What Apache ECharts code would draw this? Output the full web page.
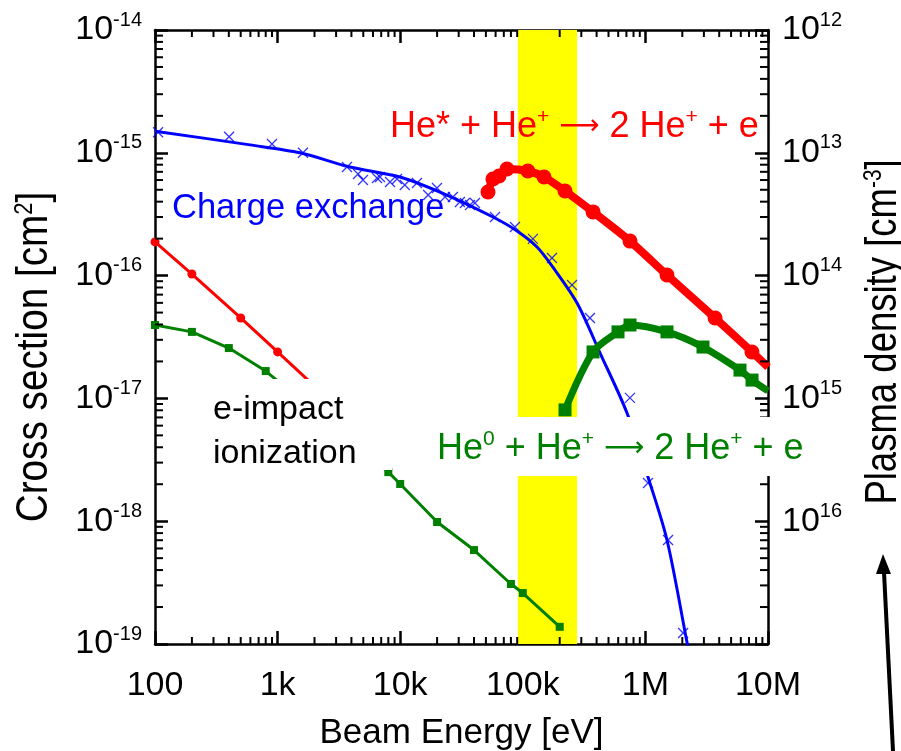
<!DOCTYPE html>
<html><head><meta charset="utf-8">
<script src="https://cdn.jsdelivr.net/npm/echarts@6/dist/echarts.min.js"></script>
<style>html,body{margin:0;padding:0;background:#fff}#c{width:901px;height:751px}</style>
</head><body><div id="c"></div>
<script>
const FONT = '"Liberation Sans", Arial, Helvetica, sans-serif';
const ARROW_FONT = '"DejaVu Sans", "Liberation Sans", sans-serif';

// ---- axes ----
const xTickLabels = ['100', '1k', '10k', '100k', '1M', '10M'];
const leftTickExponents = ['-19', '-18', '-17', '-16', '-15', '-14'];
const rightTickExponents = ['12', '13', '14', '15', '16', ''];
const minorMultipliers = [2, 3, 4, 5, 6, 7, 8, 9];
const xDecades = [100, 1e3, 1e4, 1e5, 1e6];
const yDecades = [1e-19, 1e-18, 1e-17, 1e-16, 1e-15];

// ---- charge exchange (fit curve + data crosses) ----
const cxCurveEnergy = [100, 596, 1524, 3890, 9950, 24000, 57100, 89700, 130600, 176000, 277000, 427000, 708000, 1050000, 1500000, 2190000, 2500000];
const cxCurveSigma  = [1.5e-15, 1.16e-15, 1.0e-15, 7.66e-16, 6.35e-16, 4.53e-16, 3.0e-16, 2.31e-16, 1.71e-16, 1.17e-16, 5.98e-17, 2.34e-17, 7.6e-18, 2.29e-18, 7.03e-19, 1.02e-19, 5.2e-20];
const cxDataEnergy = [106, 402, 900, 1610, 3680, 4530, 4970, 6470, 6840, 8260, 9420, 10900, 13700, 16900, 19950, 23200, 26900, 30700, 33700, 37100, 40700, 59300, 86300, 121000, 173000, 252000, 353000, 748000, 1050000, 1530000, 2030000];
const cxDataSigma  = [1.47e-15, 1.35e-15, 1.18e-15, 1.0e-15, 7.66e-16, 6.71e-16, 6.01e-16, 6.24e-16, 6.35e-16, 5.78e-16, 6.12e-16, 5.47e-16, 5.68e-16, 4.53e-16, 5.17e-16, 4.37e-16, 4.37e-16, 3.98e-16, 3.9e-16, 3.76e-16, 3.9e-16, 3.0e-16, 2.49e-16, 1.99e-16, 1.39e-16, 8.38e-17, 4.51e-17, 1.01e-17, 2.05e-18, 7.03e-19, 1.23e-19];

// ---- e-impact ionization ----
const eImpStarEnergy = [100, 200, 500, 1000, 2000];
const eImpStarSigma  = [1.88e-16, 1.03e-16, 4.52e-17, 2.39e-17, 1.26e-17];
const eImpZeroEnergy = [100, 200, 400, 800, 8000, 10000, 20000, 40000, 80000, 100000, 200000];
const eImpZeroSigma  = [3.96e-17, 3.48e-17, 2.57e-17, 1.67e-17, 2.51e-18, 2.01e-18, 9.85e-19, 5.82e-19, 3.08e-19, 2.6e-19, 1.38e-19];

// ---- He + He+ -> 2He+ + e ----
const ionStarEnergy = [52000, 57100, 64000, 74300, 110000, 149000, 221000, 374000, 749000, 1500000, 3700000, 7400000, 10000000];
const ionStarSigma  = [4.8e-16, 6.12e-16, 6.48e-16, 7.38e-16, 7.11e-16, 6.35e-16, 4.89e-16, 3.3e-16, 1.91e-16, 1.01e-16, 4.52e-17, 2.39e-17, 1.8e-17];
const ionZeroEnergy = [221000, 374000, 598000, 749000, 1500000, 2950000, 5910000, 7410000, 10000000];
const ionZeroSigma  = [8.06e-18, 2.39e-17, 3.48e-17, 3.96e-17, 3.48e-17, 2.62e-17, 1.7e-17, 1.41e-17, 1.15e-17];

// ---- highlighted beam energy band ----
const bandEnergy = [91000, 277000];

const X_MIN = 100, X_MAX = 1e7, Y_MIN = 1e-19, Y_MAX = 1e-14;
const zip = (a, b) => a.map((v, i) => [v, b[i]]);
const lastNoSymbol = arr => arr.map((p, i) => i === arr.length - 1 ? { value: p, symbol: 'none' } : p);
const exp10 = v => Math.round(Math.log10(v));
const xMinor = [], yMinor = [];
xDecades.forEach(d => minorMultipliers.forEach(m => xMinor.push([d * m, Y_MIN])));
yDecades.forEach(d => minorMultipliers.forEach(m => yMinor.push([X_MIN, d * m])));

const supRich = {
  a: { fontFamily: FONT, fontSize: 34, lineHeight: 40, color: '#000' },
  b: { fontFamily: FONT, fontSize: 20, lineHeight: 14, verticalAlign: 'top', color: '#000' }
};
const axisLineStyle = { color: '#000', width: 2.5 };
const majorTick = { inside: true, length: 13, lineStyle: { color: '#000', width: 2.5 } };

const chart = echarts.init(document.getElementById('c'), null, { renderer: 'canvas' });

function textRich(color, size) {
  return {
    s: { fontFamily: FONT, fontSize: 21, lineHeight: 14, verticalAlign: 'top', fill: color, color: color },
    m: { fontFamily: FONT, fontSize: size, lineHeight: 40, fill: color, color: color },
    r: { fontFamily: ARROW_FONT, fontSize: 28, lineHeight: 40, fill: color, color: color }
  };
}
function titleRich() {
  return {
    m: { fontFamily: FONT, fontSize: 44, lineHeight: 44, fill: '#000', color: '#000' },
    s: { fontFamily: FONT, fontSize: 25, lineHeight: 17, verticalAlign: 'top', fill: '#000', color: '#000' }
  };
}

const option = {
  animation: false,
  backgroundColor: '#fff',
  grid: { left: 155, top: 30, width: 613, height: 614, containLabel: false, outerBoundsMode: 'none' },
  xAxis: [
    {
      type: 'log', logBase: 10, min: X_MIN, max: X_MAX, interval: 1, position: 'bottom',
      axisLine: { show: true, onZero: false, lineStyle: axisLineStyle },
      axisTick: majorTick, splitLine: { show: false }, minorTick: { show: false },
      axisLabel: { margin: 25, fontFamily: FONT, fontSize: 34, color: '#000',
        formatter: v => xTickLabels[exp10(v) - 2] },
      name: 'Beam Energy [eV]', nameLocation: 'middle', nameGap: 72,
      nameTextStyle: { fontFamily: FONT, fontSize: 35, color: '#000' }
    },
    {
      type: 'log', logBase: 10, min: X_MIN, max: X_MAX, interval: 1, position: 'top',
      axisLine: { show: true, onZero: false, lineStyle: axisLineStyle },
      axisTick: majorTick, splitLine: { show: false }, axisLabel: { show: false }
    }
  ],
  yAxis: [
    {
      type: 'log', logBase: 10, min: Y_MIN, max: Y_MAX, interval: 1, position: 'left',
      axisLine: { show: true, onZero: false, lineStyle: axisLineStyle },
      axisTick: majorTick, splitLine: { show: false },
      axisLabel: { margin: 13, rich: supRich,
        formatter: v => '{a|10}{b|' + leftTickExponents[exp10(v) + 19] + '}' }
    },
    {
      type: 'log', logBase: 10, min: 1e12, max: 1e17, interval: 1, inverse: true, position: 'right',
      axisLine: { show: true, onZero: false, lineStyle: axisLineStyle },
      axisTick: majorTick, splitLine: { show: false },
      axisLabel: { margin: 14, rich: supRich,
        formatter: v => { const e = rightTickExponents[exp10(v) - 12]; return e ? '{a|10}{b|' + e + '}' : ''; } }
    }
  ],
  series: [
    {
      name: 'band', type: 'line', data: [], z: 1, silent: true,
      markArea: { silent: true, itemStyle: { color: '#ffff00', opacity: 1 },
        data: [[{ xAxis: bandEnergy[0] }, { xAxis: bandEnergy[1] }]] }
    },
    {
      name: 'Charge exchange fit', type: 'line', z: 3, smooth: 0.3, symbol: 'none', clip: true,
      lineStyle: { color: '#0000ff', width: 3 },
      data: zip(cxCurveEnergy, cxCurveSigma)
    },
    {
      name: 'Charge exchange data', type: 'scatter', z: 4, symbol: 'path://M0,0L10,10M10,0L0,10', symbolSize: 10,
      itemStyle: { color: 'rgba(0,0,0,0)', borderColor: '#0000ff', borderWidth: 1.3 },
      data: zip(cxDataEnergy, cxDataSigma)
    },
    {
      name: 'e-impact He*', type: 'line', z: 3, symbol: 'circle', symbolSize: 9,
      lineStyle: { color: '#ff0000', width: 3 }, itemStyle: { color: '#ff0000' },
      data: zip(eImpStarEnergy, eImpStarSigma)
    },
    {
      name: 'e-impact He0', type: 'line', z: 3, symbol: 'rect', symbolSize: 8,
      lineStyle: { color: '#008000', width: 3 }, itemStyle: { color: '#008000' },
      data: zip(eImpZeroEnergy, eImpZeroSigma)
    },
    {
      name: 'He* + He+', type: 'line', z: 3, smooth: 0.25, symbol: 'circle', symbolSize: 15, clip: true,
      lineStyle: { color: '#ff0000', width: 8 }, itemStyle: { color: '#ff0000' },
      data: lastNoSymbol(zip(ionStarEnergy, ionStarSigma))
    },
    {
      name: 'He0 + He+', type: 'line', z: 3, smooth: 0.3, symbol: 'rect', symbolSize: 13, clip: true,
      lineStyle: { color: '#008000', width: 7 }, itemStyle: { color: '#008000' },
      data: lastNoSymbol(zip(ionZeroEnergy, ionZeroSigma))
    },
    {
      name: 'x minor ticks', type: 'custom', z: 6, silent: true, data: xMinor,
      renderItem: (params, api) => {
        const b = api.coord([api.value(0), Y_MIN]);
        const t = api.coord([api.value(0), Y_MAX]);
        const st = { stroke: '#000', lineWidth: 2 };
        return { type: 'group', children: [
          { type: 'line', shape: { x1: b[0], y1: b[1], x2: b[0], y2: b[1] - 7 }, style: st },
          { type: 'line', shape: { x1: t[0], y1: t[1], x2: t[0], y2: t[1] + 7 }, style: st }
        ] };
      }
    },
    {
      name: 'y minor ticks', type: 'custom', z: 6, silent: true, data: yMinor,
      renderItem: (params, api) => {
        const l = api.coord([X_MIN, api.value(1)]);
        const r = api.coord([X_MAX, api.value(1)]);
        const st = { stroke: '#000', lineWidth: 2 };
        return { type: 'group', children: [
          { type: 'line', shape: { x1: l[0], y1: l[1], x2: l[0] + 8, y2: l[1] }, style: st },
          { type: 'line', shape: { x1: r[0], y1: r[1], x2: r[0] - 8, y2: r[1] }, style: st }
        ] };
      }
    }
  ],
  graphic: [
    // cover boxes behind labels
    { type: 'rect', z: 100, shape: { x: 205, y: 379, width: 187, height: 91 }, style: { fill: '#fff' } },
    { type: 'rect', z: 100, shape: { x: 428, y: 417, width: 387, height: 59 }, style: { fill: '#fff' } },
    { type: 'text', z: 101, x: 172, y: 208,
      style: { text: 'Charge exchange', fontFamily: FONT, fontSize: 34.5, fill: '#0000ff', align: 'left', verticalAlign: 'middle' } },
    { type: 'text', z: 101, x: 390, y: 127,
      style: { text: '{m|He* + He}{s|+}{m| }{r|⟶}{m| 2 He}{s|+}{m| + e}', rich: textRich('#ff0000', 36),
        fontFamily: FONT, fontSize: 36, fill: '#ff0000', align: 'left', verticalAlign: 'middle' } },
    { type: 'text', z: 101, x: 437, y: 449,
      style: { text: '{m|He}{s|0}{m| + He}{s|+}{m| }{r|⟶}{m| 2 He}{s|+}{m| + e}', rich: textRich('#008000', 36),
        fontFamily: FONT, fontSize: 36, fill: '#008000', align: 'left', verticalAlign: 'middle' } },
    { type: 'text', z: 101, x: 213, y: 432,
      style: { text: 'e-impact\nionization', fontFamily: FONT, fontSize: 34, lineHeight: 44, fill: '#000', align: 'left', verticalAlign: 'middle' } },
    { type: 'text', z: 101, x: 35, y: 357, rotation: Math.PI / 2, scaleX: 0.88,
      style: { text: '{m|Cross section [cm}{s|2}{m|]}', fill: '#000', align: 'center', verticalAlign: 'middle', rich: titleRich() } },
    { type: 'text', z: 101, x: 884, y: 332, rotation: Math.PI / 2, scaleX: 0.83,
      style: { text: '{m|Plasma density [cm}{s|-3}{m|]}', fill: '#000', align: 'center', verticalAlign: 'middle', rich: titleRich() } },
    { type: 'line', z: 101, shape: { x1: 893, y1: 751, x2: 884, y2: 572 }, style: { stroke: '#000', lineWidth: 4 } },
    { type: 'polygon', z: 101, shape: { points: [[883, 554], [876, 574], [891, 574]] }, style: { fill: '#000' } }
  ]
};
chart.setOption(option);
</script></body></html>
